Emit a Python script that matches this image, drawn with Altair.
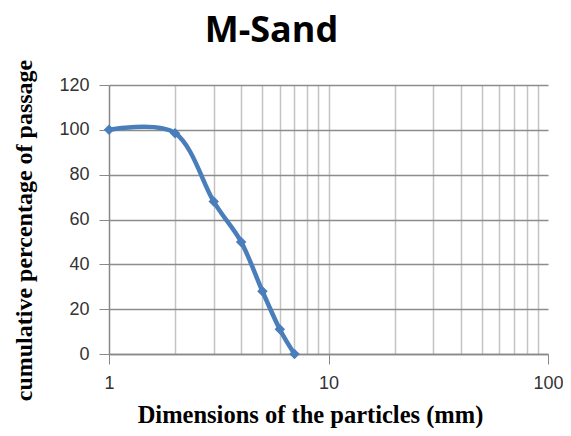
import altair as alt
import pandas as pd

# Data
size_mm = [1, 2, 3, 4, 5, 6, 7]
passing = [100, 98.5, 68, 50, 28, 11, 0]

x_grid_values = [1, 2, 3, 4, 5, 6, 7, 8, 9, 10, 20, 30, 40, 50, 60, 70, 80, 90, 100]
y_tick_values = [0, 20, 40, 60, 80, 100, 120]

df = pd.DataFrame({"size": size_mm, "passing": passing})

blue = "#4a7ebb"

x_enc = alt.X(
    "size:Q",
    scale=alt.Scale(type="log", domain=[1, 100], nice=False),
    axis=alt.Axis(
        values=x_grid_values,
        labelExpr="(datum.value == 1 || datum.value == 10 || datum.value == 100) ? datum.label : ''",
        labelOverlap=False,
        labelFlush=False,
        title="Dimensions of the particles (mm)",
        titleFont="Liberation Serif",
        titleFontSize=24.5,
        titleFontWeight="bold",
        titleColor="#000000",
        titleX=201,
        titleY=68,
        titleAlign="center",
        titleBaseline="alphabetic",
        labelFont="Liberation Sans",
        labelFontSize=18,
        labelColor="#333333",
        labelPadding=10,
        tickSize=10,
        tickColor="#888888",
        tickOpacity={"condition": {"test": "datum.value == 1 || datum.value == 10 || datum.value == 100", "value": 1}, "value": 0},
        grid=True,
        gridColor="#c4c4c4",
        gridWidth=1.5,
        gridOpacity={"condition": {"test": "datum.value == 1 || datum.value == 100", "value": 0}, "value": 1},
        domainColor="#888888",
        domainWidth=1.5,
    ),
)

y_enc = alt.Y(
    "passing:Q",
    scale=alt.Scale(domain=[0, 120], nice=False),
    axis=alt.Axis(
        values=y_tick_values,
        title="cumulative percentage of passage",
        titleFont="Liberation Serif",
        titleFontSize=24,
        titleFontWeight="bold",
        titleColor="#000000",
        titleAngle=270,
        titleX=-78,
        titleY=145,
        titleAlign="center",
        titleBaseline="alphabetic",
        labelFont="Liberation Sans",
        labelFontSize=18,
        labelColor="#333333",
        labelPadding=10,
        tickSize=10,
        tickColor="#888888",
        grid=True,
        gridColor="#8c8c8c",
        gridWidth=1.5,
        domainColor="#888888",
        domainWidth=1.5,
    ),
)

line = alt.Chart(df).mark_line(
    color=blue, strokeWidth=4.5, interpolate="cardinal", clip=False
).encode(x=x_enc, y=y_enc)

points = alt.Chart(df).mark_point(
    shape="diamond", filled=True, color=blue, size=110, opacity=1, clip=False
).encode(x="size:Q", y="passing:Q")

chart = (line + points).properties(
    width=439,
    height=269,
    title=alt.TitleParams(
        "M-Sand",
        font="Open Sans",
        fontSize=36,
        fontWeight="bold",
        color="#000000",
        anchor="middle",
        frame="group",
        dx=-57,
        dy=37,
        baseline="alphabetic",
        offset=18,
    ),
    autosize=alt.AutoSizeParams(type="none"),
    padding={"left": 101, "top": 77, "right": 15, "bottom": 74},
).configure_view(stroke=None)

chart.save("out.html", embed_options={"renderer": "svg", "actions": False})
